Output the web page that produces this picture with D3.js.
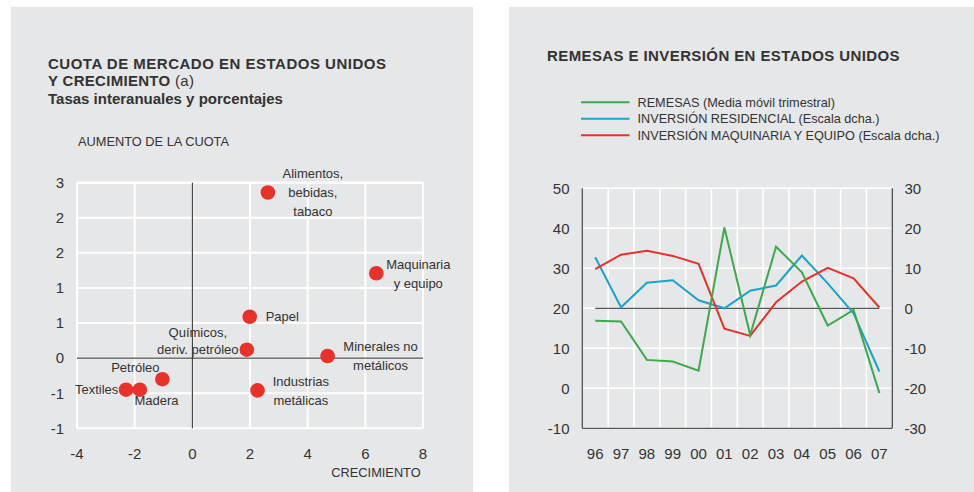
<!DOCTYPE html>
<html>
<head>
<meta charset="utf-8">
<script src="https://cdn.jsdelivr.net/npm/d3@7"></script>
<style>
  html, body { margin: 0; padding: 0; background: #ffffff; }
  svg { display: block; font-family: "Liberation Sans", Arial, Helvetica, sans-serif; }
  text { fill: #333333; }
</style>
</head>
<body>
<svg id="chart" width="974" height="492"></svg>
<script>
// ---------- DATA: left panel (scatter) ----------
const sectors = [
  ["Alimentos,", "bebidas,", "tabaco"],
  ["Maquinaria", "y equipo"],
  ["Papel"],
  ["Químicos,", "deriv. petróleo"],
  ["Minerales no", "metálicos"],
  ["Industrias", "metálicas"],
  ["Petróleo"],
  ["Madera"],
  ["Textiles"]
];
const growth    = [2.62, 6.38, 1.99, 1.89, 4.69, 2.26, -1.04, -1.82, -2.30];
const shareGain = [2.36, 1.21, 0.59, 0.12, 0.03, -0.46, -0.30, -0.45, -0.45];
const scatterXTicks = [-4, -2, 0, 2, 4, 6, 8];
const scatterYTicks = [-1, -0.5, 0, 0.5, 1, 1.5, 2, 2.5];
const scatterYTickLabels = ["-1", "-1", "0", "1", "1", "2", "2", "3"];

// ---------- DATA: right panel (lines) ----------
const years = ["96", "97", "98", "99", "00", "01", "02", "03", "04", "05", "06", "07"];
const remesas      = [16.9, 16.7, 7.1, 6.7, 4.4, 40.2, 13.3, 35.4, 29.0, 15.7, 19.6, -1.2];
const residencial  = [12.75, 0.25, 6.4, 7.0, 2.0, 0.0, 4.4, 5.7, 13.2, 6.25, -1.25, -15.8];
const maquinaria   = [9.8, 13.4, 14.4, 13.1, 11.1, -5.1, -6.9, 1.5, 6.7, 10.1, 7.5, 0.2];
const leftTicks  = [-10, 0, 10, 20, 30, 40, 50];
const rightTicks = [-30, -20, -10, 0, 10, 20, 30];
const legendLabels = [
  "REMESAS (Media móvil trimestral)",
  "INVERSIÓN RESIDENCIAL (Escala dcha.)",
  "INVERSIÓN MAQUINARIA Y EQUIPO (Escala dcha.)"
];

// ---------- STYLE ----------
const BG = "#e6e7e8";
const RED = "#e8312a", GREEN = "#3aaa4a", BLUE = "#1aa3cc";

const svg = d3.select("#chart");

// Panels
svg.append("rect").attr("x", 11).attr("y", 7).attr("width", 462).attr("height", 485).attr("fill", BG);
svg.append("rect").attr("x", 509).attr("y", 7).attr("width", 465).attr("height", 485).attr("fill", BG);

// ================= LEFT PANEL =================
const L = svg.append("g");
L.append("text").attr("x", 48).attr("y", 69).attr("font-size", 15).attr("font-weight", "bold")
  .attr("letter-spacing", 0.5).text("CUOTA DE MERCADO EN ESTADOS UNIDOS");
const t2 = L.append("text").attr("x", 48).attr("y", 85.5).attr("font-size", 15).attr("letter-spacing", 0.3);
t2.append("tspan").attr("font-weight", "bold").text("Y CRECIMIENTO");
t2.append("tspan").attr("font-weight", "normal").text(" (a)");
L.append("text").attr("x", 48).attr("y", 103.5).attr("font-size", 15).attr("font-weight", "bold")
  .text("Tasas interanuales y porcentajes");
L.append("text").attr("x", 78).attr("y", 146).attr("font-size", 12.8).text("AUMENTO DE LA CUOTA");

const sx = d3.scaleLinear().domain([-4, 8]).range([77, 423]);
const sy = d3.scaleLinear().domain([-1, 2.5]).range([428.3, 182.7]);

// grid
L.append("g").selectAll("line").data(scatterXTicks).join("line")
  .attr("x1", d => sx(d)).attr("x2", d => sx(d)).attr("y1", sy(-1)).attr("y2", sy(2.5))
  .attr("stroke", "#ffffff").attr("stroke-width", 2);
L.append("g").selectAll("line").data(scatterYTicks).join("line")
  .attr("x1", sx(-4)).attr("x2", sx(8)).attr("y1", d => sy(d)).attr("y2", d => sy(d))
  .attr("stroke", "#ffffff").attr("stroke-width", 2);
L.append("line").attr("x1", sx(-4)).attr("x2", sx(8)).attr("y1", sy(2.5)).attr("y2", sy(2.5))
  .attr("stroke", "#ffffff").attr("stroke-width", 2);
// zero axes
L.append("line").attr("x1", sx(-4)).attr("x2", sx(8)).attr("y1", sy(0)).attr("y2", sy(0))
  .attr("stroke", "#222").attr("stroke-width", 1);
L.append("line").attr("x1", sx(0)).attr("x2", sx(0)).attr("y1", sy(-1)).attr("y2", sy(2.5))
  .attr("stroke", "#222").attr("stroke-width", 1);

// axis labels
L.append("g").selectAll("text").data(scatterYTicks).join("text")
  .attr("x", 64).attr("y", d => sy(d) + 5.3).attr("text-anchor", "end").attr("font-size", 15)
  .text((d, i) => scatterYTickLabels[i]);
L.append("g").selectAll("text").data(scatterXTicks).join("text")
  .attr("x", d => sx(d)).attr("y", 458.5).attr("text-anchor", "middle").attr("font-size", 15)
  .text(d => String(d));
L.append("text").attr("x", 376).attr("y", 476.8).attr("text-anchor", "middle").attr("font-size", 12.8)
  .text("CRECIMIENTO");

// points
const pts = growth.map((g, i) => ({ x: g, y: shareGain[i], lines: sectors[i] }));
L.append("g").selectAll("circle").data(pts).join("circle")
  .attr("cx", d => sx(d.x)).attr("cy", d => sy(d.y)).attr("r", 7.3).attr("fill", RED);

// label layout: [dx, dy(first line centre), anchor]
const labelLayout = [
  [45, -19.7, "middle"],
  [42, -9.3, "middle"],
  [16, 0, "start"],
  [-49, -17, "middle"],
  [53, -10, "middle"],
  [43.4, -9.4, "middle"],
  [-27, -11.7, "middle"],
  [16.7, 11, "middle"],
  [-7.7, 0, "end"]
];
const lineH = 19;
pts.forEach((p, i) => {
  const [dx, dy, anchor] = labelLayout[i];
  const lh = i === 3 ? 17 : lineH;
  const t = L.append("text").attr("font-size", 13).attr("text-anchor", anchor);
  p.lines.forEach((ln, j) => {
    t.append("tspan").attr("x", sx(p.x) + dx).attr("y", sy(p.y) + dy + j * lh + 4.7).text(ln);
  });
});

// ================= RIGHT PANEL =================
const R = svg.append("g");
R.append("text").attr("x", 547).attr("y", 61).attr("font-size", 15).attr("font-weight", "bold")
  .attr("letter-spacing", 0.4).text("REMESAS E INVERSIÓN EN ESTADOS UNIDOS");

const legendColors = [GREEN, BLUE, RED];
const lg = R.append("g");
legendLabels.forEach((lab, i) => {
  const y = 102.3 + i * 16.5;
  lg.append("line").attr("x1", 581).attr("x2", 629.5).attr("y1", y).attr("y2", y)
    .attr("stroke", legendColors[i]).attr("stroke-width", 2);
  lg.append("text").attr("x", 637.5).attr("y", y + 4.6).attr("font-size", 12.7).text(lab);
});

const px0 = 582.3, px1 = 892.3, pyTop = 188.3, pyBot = 428.3;
const bx = d3.scaleBand().domain(years).range([px0, px1]).padding(0);
const cx = d => bx(d) + bx.bandwidth() / 2;
const yL = d3.scaleLinear().domain([-10, 50]).range([pyBot, pyTop]);
const yR = d3.scaleLinear().domain([-30, 30]).range([pyBot, pyTop]);

// grid
R.append("g").selectAll("line").data(years.slice(1)).join("line")
  .attr("x1", d => bx(d)).attr("x2", d => bx(d)).attr("y1", pyTop).attr("y2", pyBot)
  .attr("stroke", "#ffffff").attr("stroke-width", 1.6);
R.append("g").selectAll("line").data(leftTicks).join("line")
  .attr("x1", px0).attr("x2", px1).attr("y1", d => yL(d)).attr("y2", d => yL(d))
  .attr("stroke", "#ffffff").attr("stroke-width", 1.6);

// frame (left, bottom, right)
R.append("line").attr("x1", px0).attr("x2", px0).attr("y1", pyTop).attr("y2", pyBot).attr("stroke", "#555").attr("stroke-width", 1.3);
R.append("line").attr("x1", px1).attr("x2", px1).attr("y1", pyTop).attr("y2", pyBot).attr("stroke", "#333").attr("stroke-width", 1.1);
R.append("line").attr("x1", px0).attr("x2", px1).attr("y1", pyBot).attr("y2", pyBot).attr("stroke", "#555").attr("stroke-width", 1.3);
// zero line of right scale
R.append("line").attr("x1", cx(years[0])).attr("x2", cx(years[years.length - 1]))
  .attr("y1", yR(0)).attr("y2", yR(0)).attr("stroke", "#555").attr("stroke-width", 1.3);

// tick labels
R.append("g").selectAll("text").data(leftTicks).join("text")
  .attr("x", 569.5).attr("y", d => yL(d) + 5.3).attr("text-anchor", "end").attr("font-size", 15)
  .text(d => String(d));
R.append("g").selectAll("text").data(rightTicks).join("text")
  .attr("x", 904.5).attr("y", d => yR(d) + 5.3).attr("text-anchor", "start").attr("font-size", 15)
  .text(d => String(d));
R.append("g").selectAll("text").data(years).join("text")
  .attr("x", d => cx(d)).attr("y", 458.5).attr("text-anchor", "middle").attr("font-size", 15)
  .text(d => d);

// lines
const mk = (vals, scale) => d3.line().x((d, i) => cx(years[i])).y(d => scale(d))(vals);
R.append("path").attr("d", mk(residencial, yR)).attr("fill", "none").attr("stroke", BLUE).attr("stroke-width", 2);
R.append("path").attr("d", mk(maquinaria, yR)).attr("fill", "none").attr("stroke", RED).attr("stroke-width", 2);
R.append("path").attr("d", mk(remesas, yL)).attr("fill", "none").attr("stroke", GREEN).attr("stroke-width", 2);
</script>
</body>
</html>
